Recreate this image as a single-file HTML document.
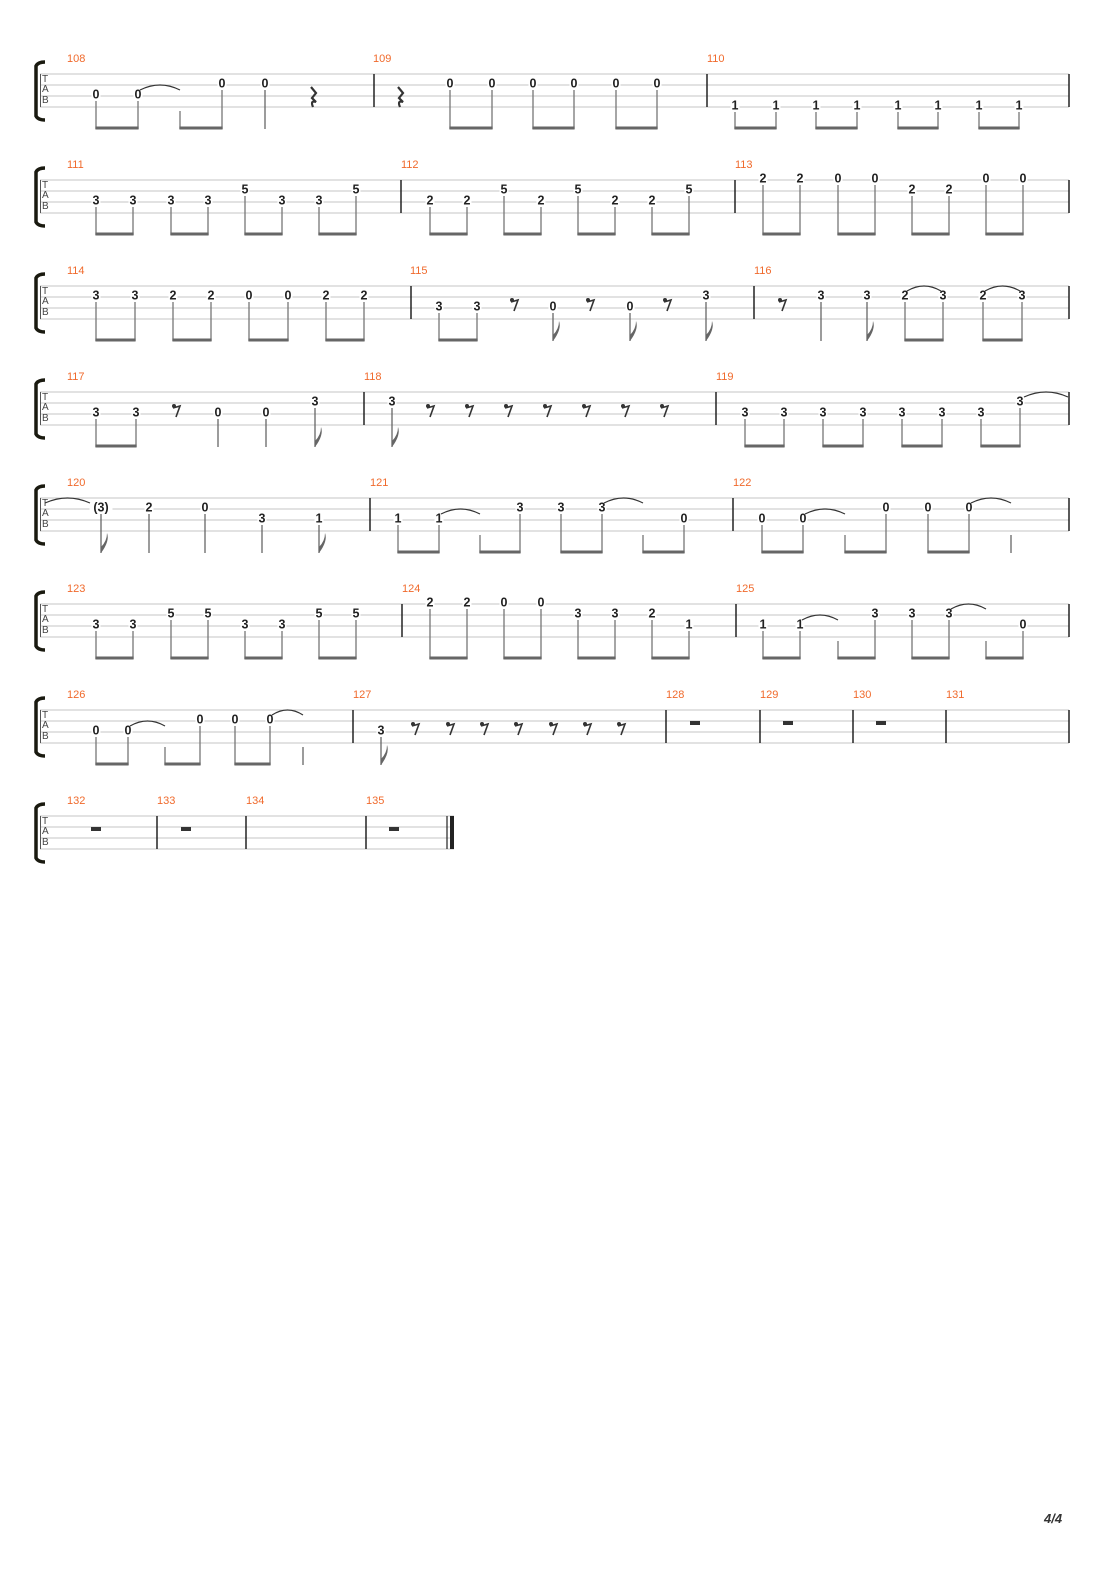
<!DOCTYPE html>
<html><head><meta charset="utf-8"><style>
body{margin:0;background:#fff;}
svg{display:block}
text{font-family:"Liberation Sans","DejaVu Sans",sans-serif}
</style></head><body>
<svg id="s" width="1110" height="1570" xmlns="http://www.w3.org/2000/svg"></svg>
<script>
const S=document.getElementById('s');let h='';
const SYS=[
{y:74,end:1069,bars:[374,707],nums:[[67,'108'],[373,'109'],[707,'110']],
 notes:[[96,3,'0'],[138,3,'0'],[222,2,'0'],[265,2,'0'],[450,2,'0'],[492,2,'0'],[533,2,'0'],[574,2,'0'],[616,2,'0'],[657,2,'0'],
 [735,4,'1'],[776,4,'1'],[816,4,'1'],[857,4,'1'],[898,4,'1'],[938,4,'1'],[979,4,'1'],[1019,4,'1']],
 beams:[[96,138],[180,222],[450,492],[533,574],[616,657],[735,776],[816,857],[898,938],[979,1019]],
 stems:[[265,2]],empty:[[180]],flags:[],r8:[],r4:[313,400],ties:[[140,180,3]],hr:[]},
{y:180,end:1069,bars:[401,735],nums:[[67,'111'],[401,'112'],[735,'113']],
 notes:[[96,3,'3'],[133,3,'3'],[171,3,'3'],[208,3,'3'],[245,2,'5'],[282,3,'3'],[319,3,'3'],[356,2,'5'],
 [430,3,'2'],[467,3,'2'],[504,2,'5'],[541,3,'2'],[578,2,'5'],[615,3,'2'],[652,3,'2'],[689,2,'5'],
 [763,1,'2'],[800,1,'2'],[838,1,'0'],[875,1,'0'],[912,2,'2'],[949,2,'2'],[986,1,'0'],[1023,1,'0']],
 beams:[[96,133],[171,208],[245,282],[319,356],[430,467],[504,541],[578,615],[652,689],[763,800],[838,875],[912,949],[986,1023]],
 stems:[],flags:[],r8:[],r4:[],ties:[],hr:[]},
{y:286,end:1069,bars:[411,754],nums:[[67,'114'],[410,'115'],[754,'116']],
 notes:[[96,2,'3'],[135,2,'3'],[173,2,'2'],[211,2,'2'],[249,2,'0'],[288,2,'0'],[326,2,'2'],[364,2,'2'],
 [439,3,'3'],[477,3,'3'],[553,3,'0'],[630,3,'0'],[706,2,'3'],
 [821,2,'3'],[867,2,'3'],[905,2,'2'],[943,2,'3'],[983,2,'2'],[1022,2,'3']],
 beams:[[96,135],[173,211],[249,288],[326,364],[439,477],[905,943],[983,1022]],
 stems:[[821,2]],flags:[[553,3],[630,3],[706,2],[867,2]],r8:[515,591,668,783],r4:[],ties:[[907,941,2],[985,1020,2]],hr:[]},
{y:392,end:1069,bars:[364,716],nums:[[67,'117'],[364,'118'],[716,'119']],
 notes:[[96,3,'3'],[136,3,'3'],[218,3,'0'],[266,3,'0'],[315,2,'3'],[392,2,'3'],
 [745,3,'3'],[784,3,'3'],[823,3,'3'],[863,3,'3'],[902,3,'3'],[942,3,'3'],[981,3,'3'],[1020,2,'3']],
 beams:[[96,136],[745,784],[823,863],[902,942],[981,1020]],
 stems:[[218,3],[266,3]],flags:[[315,2],[392,2]],r8:[177,431,470,509,548,587,626,665],r4:[],ties:[[1024,1068,2]],hr:[]},
{y:498,end:1069,bars:[370,733],nums:[[67,'120'],[370,'121'],[733,'122']],
 notes:[[101,2,'(3)'],[149,2,'2'],[205,2,'0'],[262,3,'3'],[319,3,'1'],
 [398,3,'1'],[439,3,'1'],[520,2,'3'],[561,2,'3'],[602,2,'3'],[684,3,'0'],
 [762,3,'0'],[803,3,'0'],[886,2,'0'],[928,2,'0'],[969,2,'0']],
 beams:[[398,439],[480,520],[561,602],[643,684],[762,803],[845,886],[928,969]],
 stems:[[149,2],[205,2],[262,3],[1011,2]],flags:[[101,2],[319,3]],r8:[],r4:[],
 ties:[[45,90,2],[441,480,3],[604,643,2],[805,845,3],[971,1011,2]],hr:[]},
{y:604,end:1069,bars:[402,736],nums:[[67,'123'],[402,'124'],[736,'125']],
 notes:[[96,3,'3'],[133,3,'3'],[171,2,'5'],[208,2,'5'],[245,3,'3'],[282,3,'3'],[319,2,'5'],[356,2,'5'],
 [430,1,'2'],[467,1,'2'],[504,1,'0'],[541,1,'0'],[578,2,'3'],[615,2,'3'],[652,2,'2'],[689,3,'1'],
 [763,3,'1'],[800,3,'1'],[875,2,'3'],[912,2,'3'],[949,2,'3'],[1023,3,'0']],
 beams:[[96,133],[171,208],[245,282],[319,356],[430,467],[504,541],[578,615],[652,689],[763,800],[838,875],[912,949],[986,1023]],
 stems:[],flags:[],r8:[],r4:[],ties:[[802,838,3],[951,986,2]],hr:[]},
{y:710,end:1069,bars:[353,666,760,853,946],nums:[[67,'126'],[353,'127'],[666,'128'],[760,'129'],[853,'130'],[946,'131']],
 notes:[[96,3,'0'],[128,3,'0'],[200,2,'0'],[235,2,'0'],[270,2,'0'],[381,3,'3']],
 beams:[[96,128],[165,200],[235,270]],stems:[[303,2]],flags:[[381,3]],r8:[416,451,485,519,554,588,622],r4:[],
 ties:[[130,165,3],[272,303,2]],hr:[695,788,881]},
{y:816,end:454,bars:[157,246,366],final:true,nums:[[67,'132'],[157,'133'],[246,'134'],[366,'135']],
 notes:[],beams:[],stems:[],flags:[],r8:[],r4:[],ties:[],hr:[96,186,394]}
];
for(const s of SYS){
 const y=s.y;
 for(let i=0;i<4;i++){const ly=y+i*11;h+=`<line x1="40" y1="${ly}" x2="${s.end}" y2="${ly}" stroke="#c4c4c4" stroke-width="1"/>`;}
 h+=`<path d="M45 ${y-12} Q38 ${y-12} 36 ${y-8} L36 ${y+42} Q38 ${y+46} 45 ${y+46}" fill="none" stroke="#1a1a10" stroke-width="3.5"/>`;
 h+=`<line x1="40.5" y1="${y}" x2="40.5" y2="${y+33}" stroke="#555" stroke-width="1"/>`;
 h+=`<text x="42" y="${y+8}" font-size="10" fill="#444">T</text><text x="42" y="${y+18}" font-size="10" fill="#444">A</text><text x="42" y="${y+29}" font-size="10" fill="#444">B</text>`;
 const bars=s.final?s.bars:[...s.bars,s.end];
 for(const b of bars)h+=`<line x1="${b}" y1="${y}" x2="${b}" y2="${y+33}" stroke="#222" stroke-width="1.5"/>`;
 if(s.final){h+=`<line x1="447" y1="${y}" x2="447" y2="${y+33}" stroke="#222" stroke-width="1.2"/><rect x="450" y="${y}" width="4" height="33" fill="#222"/>`;}
 for(const [x,t] of s.nums)h+=`<text x="${x}" y="${y-12}" font-size="11" fill="#f06a2c">${t}</text>`;
 const ly=st=>y+(st-1)*11;
 for(const [x,st,t] of s.notes){
  const w=t.length*7+2;
  h+=`<rect x="${x-w/2}" y="${ly(st)-7}" width="${w}" height="11" fill="#fff"/>`;
  h+=`<text x="${x}" y="${ly(st)+2.5}" font-size="12.5" font-weight="bold" text-anchor="middle" fill="#222">${t}</text>`;
 }
 const sy=x=>{const n=s.notes.find(n=>n[0]===x);return n?ly(n[1])+5:y+37;};
 const by=y+55;
 for(const [a,b] of s.beams){
  h+=`<line x1="${a}" y1="${sy(a)}" x2="${a}" y2="${by}" stroke="#777" stroke-width="1.3"/><line x1="${b}" y1="${sy(b)}" x2="${b}" y2="${by}" stroke="#777" stroke-width="1.3"/>`;
  h+=`<rect x="${a-0.6}" y="${by-2.5}" width="${b-a+1.2}" height="3" fill="#666"/>`;
 }
 for(const [x,st] of s.stems)h+=`<line x1="${x}" y1="${s.notes.find(n=>n[0]===x)?sy(x):y+37}" x2="${x}" y2="${by}" stroke="#666" stroke-width="1.3"/>`;
 for(const [x,st] of s.flags){
  h+=`<line x1="${x}" y1="${sy(x)}" x2="${x}" y2="${by}" stroke="#666" stroke-width="1.3"/>`;
  h+=`<path d="M${x} ${by} L${x} ${by-6} Q${x+6} ${by-12} ${x+6} ${by-20} Q${x+9} ${by-12} ${x} ${by}Z" fill="#666"/>`;
 }
 for(const x of s.r8){
  h+=`<circle cx="${x-3}" cy="${y+14}" r="2" fill="#333"/><path d="M${x-4} ${y+16} L${x+3} ${y+14} L${x-1} ${y+25}" fill="none" stroke="#333" stroke-width="1.6"/>`;
 }
 for(const x of s.r4){
  h+=`<path d="M${x-2} ${y+13} L${x+3} ${y+19} L${x-1} ${y+24} L${x+3} ${y+28} Q${x-3} ${y+26} ${x} ${y+33}" fill="none" stroke="#333" stroke-width="2.2"/>`;
 }
 for(const x of s.hr)h+=`<rect x="${x-5}" y="${y+11}" width="10" height="4" fill="#333"/>`;
 for(const [a,b,st] of s.ties){const yy=ly(st)-6;h+=`<path d="M${a} ${yy} Q${(a+b)/2} ${yy-10} ${b} ${yy}" fill="none" stroke="#333" stroke-width="1.2"/>`;}
}
h+=`<text x="1044" y="1523" font-size="13" font-style="italic" font-weight="bold" fill="#333">4/4</text>`;
S.innerHTML=h;
</script>
</body></html>
